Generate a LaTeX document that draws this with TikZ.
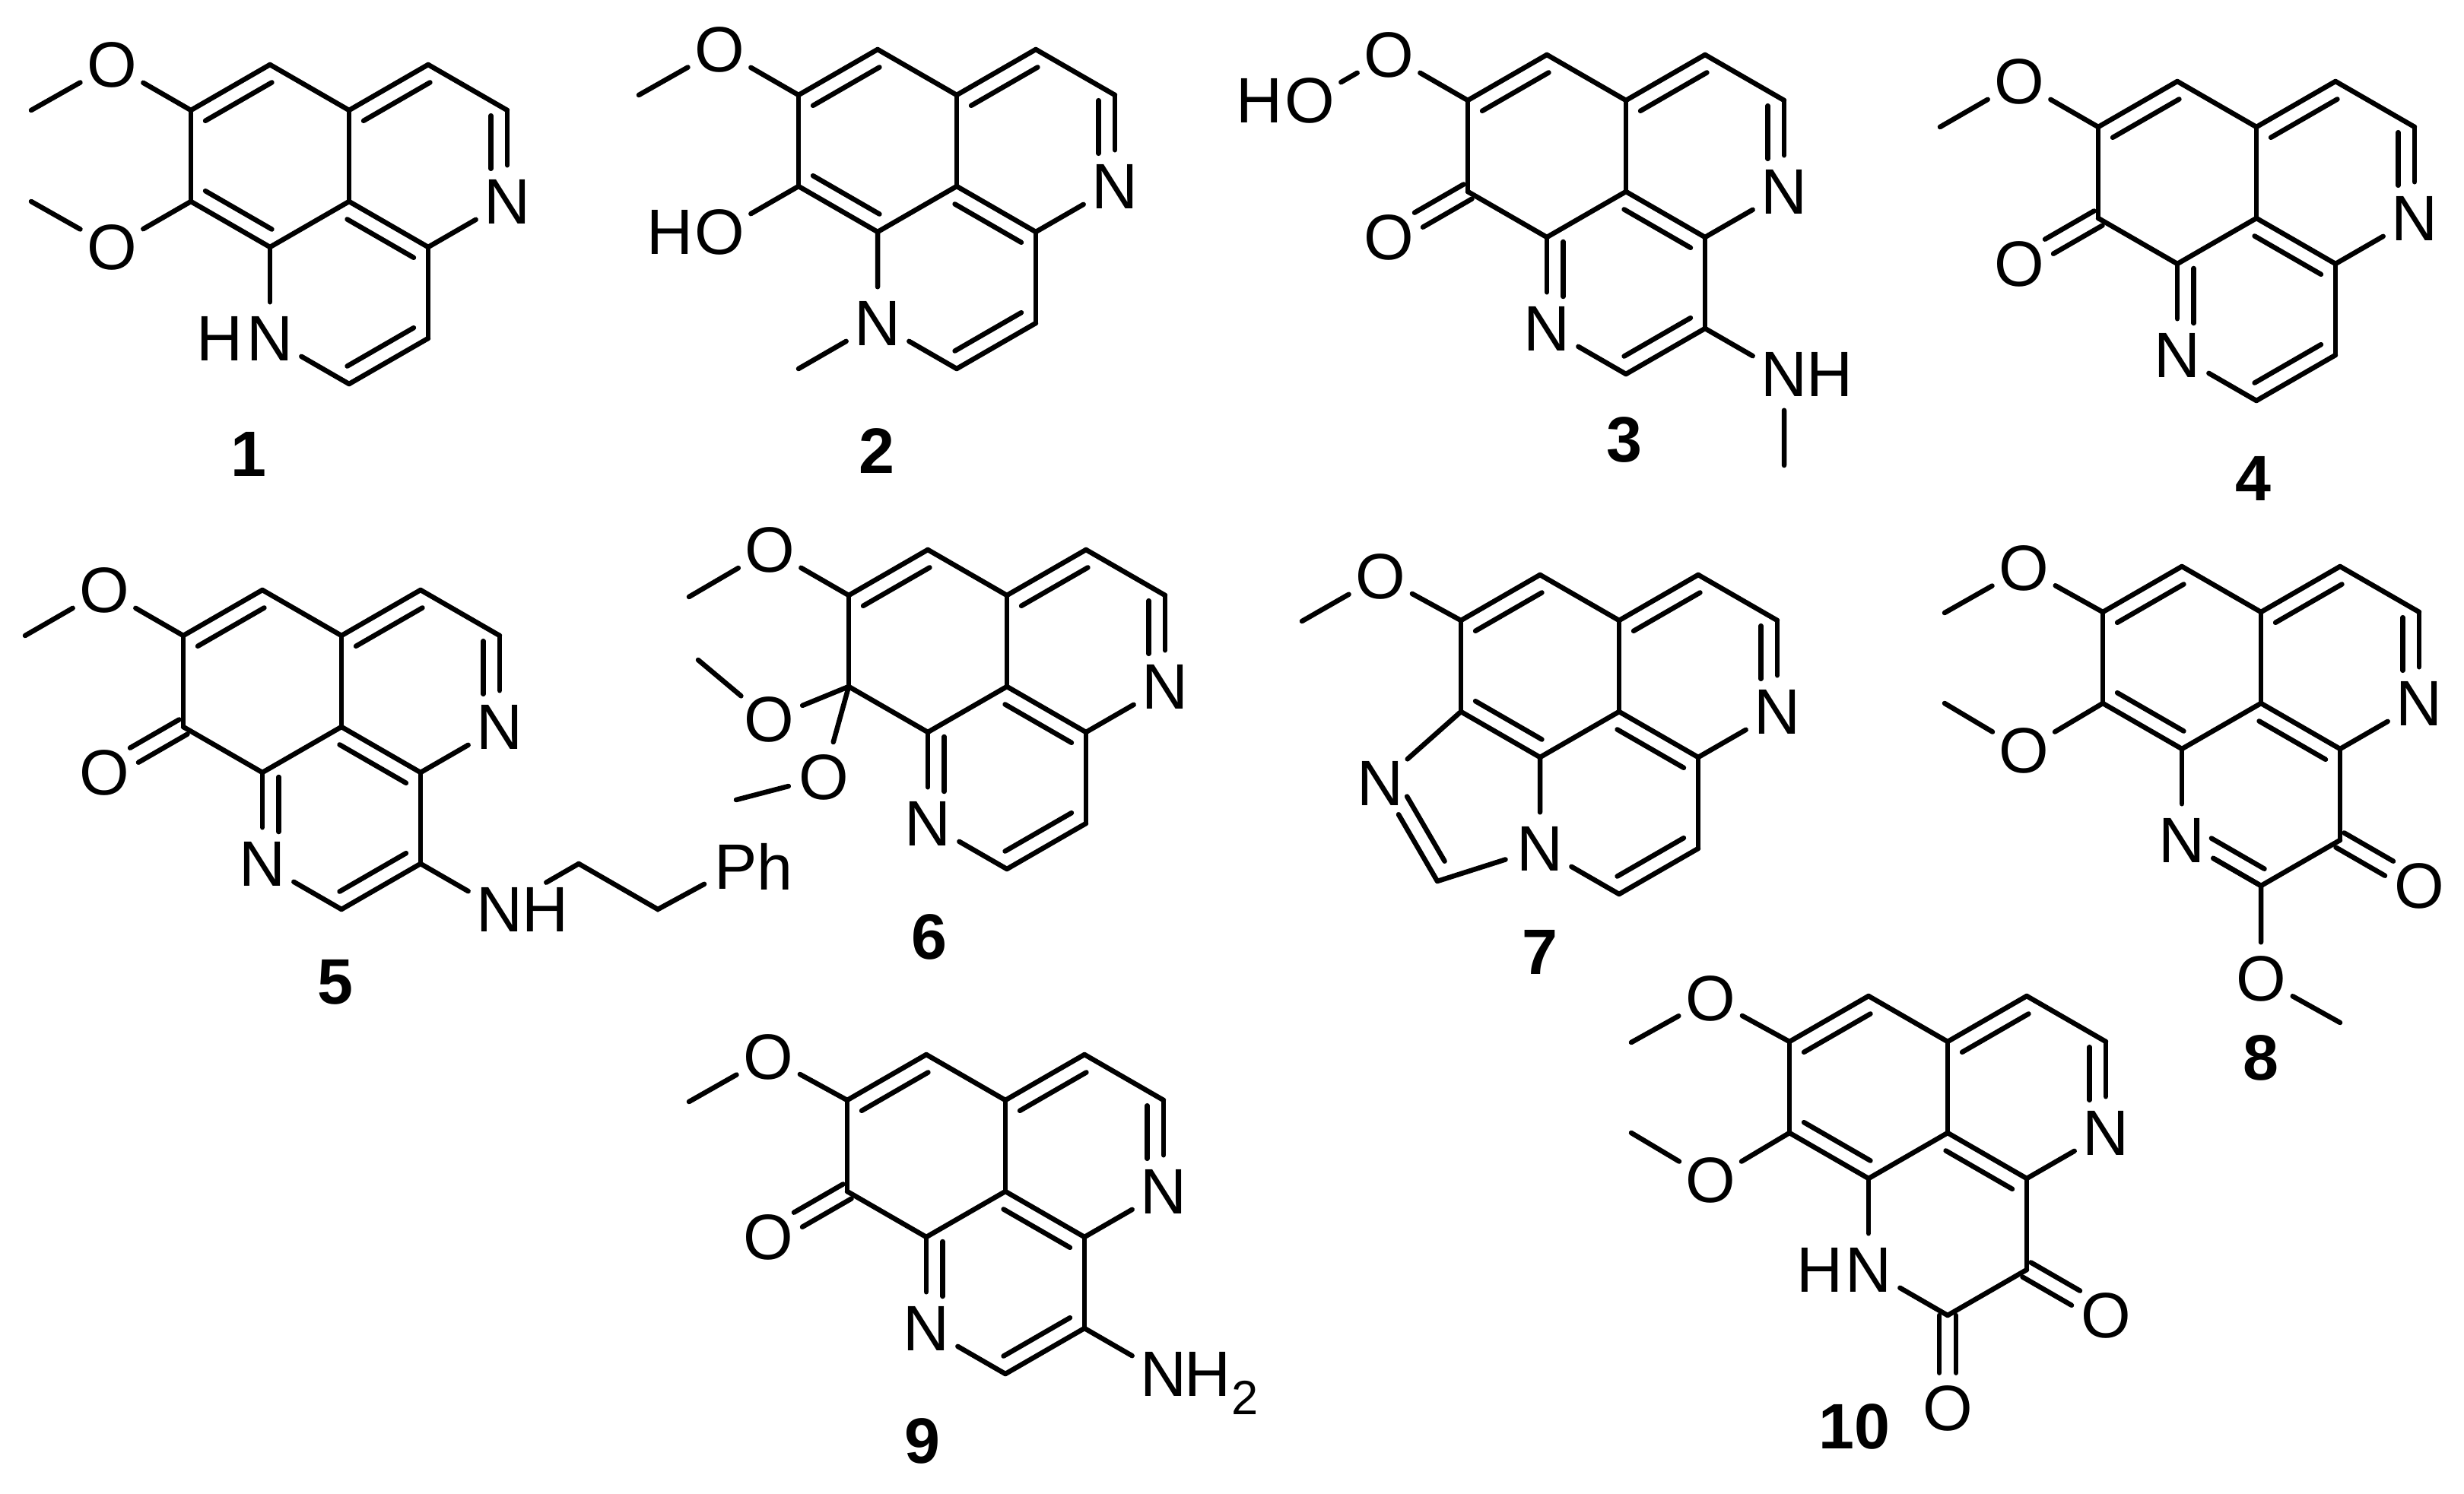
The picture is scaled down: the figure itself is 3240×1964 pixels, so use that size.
\documentclass[tikz,border=0pt]{standalone}
\usepackage{fontspec}
\setmainfont{Liberation Sans}
\usetikzlibrary{calc}

\newcommand{\dblbond}[5]{
\draw [bond] (#1) -- (#2);
\draw [bond] ($(#1)!#4!(#2)!0.215cm!#3:(#2)$) -- ($(#1)!#5!(#2)!0.215cm!#3:(#2)$);
}
\newcommand{\cobond}[2]{
\draw [bond] ($(#1)!0!(#2)!0.11cm!90:(#2)$) -- ($(#1)!.62!(#2)!0.11cm!90:(#2)$);
\draw [bond] ($(#1)!0!(#2)!0.11cm!-90:(#2)$) -- ($(#1)!.62!(#2)!0.11cm!-90:(#2)$);
}
% the skeleton that all ten share
\newcommand{\ringcore}{
\coordinate (a) at (-208,-120);
\coordinate (b) at (-104,-180);
\coordinate (c) at (0,-120);
\coordinate (d) at (104,-180);
\coordinate (e) at (208,-120);
\coordinate (f) at (104,60);
\coordinate (g) at (0,0);
\coordinate (h) at (-104,60);
\coordinate (i) at (-208,0);
\coordinate (j) at (104,180);
\coordinate (k) at (0,240);
\node [atom] (n) at (208,0) {N};
\node [atom] (l) at (-104,180) {N};
\foreach \p/\q in {b/c,d/e,n/f,c/g,a/i,h/g,j/f,l/k}
    \draw [bond] (\p) -- (\q);
\dblbond{a}{b}{-90}{.08}{.92}
\dblbond{c}{d}{-90}{.08}{.92}
\dblbond{g}{f}{-90}{.08}{.92}
\dblbond{e}{n}{-90}{.06}{.64}
}

\begin{document}
\begin{tikzpicture}[x=0.01cm,y=-0.01cm,
    bond/.style={line width=1.85pt,line cap=round},
    atom/.style={circle,inner sep=0pt,minimum size=0.94cm,font=\fontsize{24}{24}\selectfont},
    letter/.style={inner sep=0pt,font=\fontsize{24}{24}\selectfont},
    index/.style={inner sep=0pt,font=\fontsize{18}{18}\selectfont},
    tag/.style={inner sep=0pt,font=\fontsize{24}{24}\selectfont\bfseries}]
\useasboundingbox (0,0) rectangle (3240,1964);

% 1
\begin{scope}[shift={(459,265)},name prefix=m1-]
\ringcore
\node [atom] (o1) at (-312,-180) {O};
\node [atom] (o2) at (-312,60) {O};
\node [letter] (nh) at (-170,180) {H};
\coordinate (me1) at (-418,-120);
\coordinate (me2) at (-418,0);
\draw [bond] (a) -- (o1) -- (me1);
\draw [bond] (i) -- (o2) -- (me2);
\draw [bond] (h) -- (l);
\dblbond{i}{h}{90}{.08}{.92}
\dblbond{k}{j}{90}{.08}{.92}
\node [tag] (num) at (-132,332) {1};
\end{scope}

% 2
\begin{scope}[shift={(1258,245)},name prefix=m2-]
\ringcore
\node [atom] (o1) at (-312,-180) {O};
\node [atom] (o2) at (-312,60) {O};
\node [letter] (oh) at (-377,60) {H};
\coordinate (me1) at (-418,-120);
\coordinate (me2) at (-208,240);
\draw [bond] (a) -- (o1) -- (me1);
\draw [bond] (i) -- (o2);
\draw [bond] (h) -- (l) -- (me2);
\dblbond{i}{h}{90}{.08}{.92}
\dblbond{k}{j}{90}{.08}{.92}
\node [tag] (num) at (-105,348) {2};
\end{scope}

% 3
\begin{scope}[shift={(2138,252)},name prefix=m3-]
\ringcore
\node [atom] (o1) at (-312,-180) {O};
\node [atom] (o2) at (-416,-120) {O};
\node [letter] (oh) at (-482,-120) {H};
\node [atom] (o3) at (-312,60) {O};
\node [atom] (n2) at (208,240) {N};
\node [letter] (nh) at (268,240) {H};
\coordinate (me1) at (208,360);
\draw [bond] (a) -- (o1) -- (o2);
\draw [bond] (i) -- (h);
\draw [bond] (j) -- (n2) -- (me1);
\cobond{i}{o3}
\dblbond{h}{l}{90}{.05}{.65}
\dblbond{k}{j}{90}{.08}{.92}
\node [tag] (num) at (-2,327) {3};
\end{scope}

% 4
\begin{scope}[shift={(2967,287)},name prefix=m4-]
\ringcore
\node [atom] (o1) at (-312,-180) {O};
\node [atom] (o3) at (-312,60) {O};
\coordinate (me1) at (-416,-120);
\draw [bond] (a) -- (o1) -- (me1);
\draw [bond] (i) -- (h);
\cobond{i}{o3}
\dblbond{h}{l}{90}{.05}{.65}
\dblbond{k}{j}{90}{.08}{.92}
\node [tag] (num) at (-4,342) {4};
\end{scope}

% 5
\begin{scope}[shift={(449,956)},name prefix=m5-]
\ringcore
\node [atom] (o1) at (-312,-180) {O};
\node [atom] (o3) at (-312,60) {O};
\node [atom] (n2) at (208,240) {N};
\node [letter] (nh) at (268,240) {H};
\node [atom] (ph) at (519,184) {P};
\node [letter] (phh) at (570,184) {h};
\coordinate (me1) at (-416,-120);
\coordinate (ch1) at (312,180);
\coordinate (ch2) at (416,240);
\draw [bond] (a) -- (o1) -- (me1);
\draw [bond] (i) -- (h);
\draw [bond] (j) -- (n2);
\draw [bond,shorten <=0.23cm] (n2) -- (ch1);
\draw [bond] (ch1) -- (ch2) -- (ph);
\cobond{i}{o3}
\dblbond{h}{l}{90}{.05}{.65}
\dblbond{k}{j}{90}{.08}{.92}
\node [tag] (num) at (-8,336) {5};
\end{scope}

% 6
\begin{scope}[shift={(1324,903)},name prefix=m6-]
\ringcore
\node [atom] (o1) at (-312,-180) {O};
\node [atom] (o2) at (-313,43) {O};
\node [atom] (o3) at (-241,119) {O};
\coordinate (me1) at (-418,-118);
\coordinate (me2) at (-406,-35);
\coordinate (me3) at (-356,149);
\draw [bond] (a) -- (o1) -- (me1);
\draw [bond] (i) -- (o2) -- (me2);
\draw [bond] (i) -- (o3) -- (me3);
\draw [bond] (i) -- (h);
\dblbond{h}{l}{90}{.05}{.65}
\dblbond{k}{j}{90}{.08}{.92}
\node [tag] (num) at (-102,329) {6};
\end{scope}

% 7
\begin{scope}[shift={(2129,936)},name prefix=m7-]
\ringcore
\node [atom] (o1) at (-314,-178) {O};
\node [atom] (n2) at (-314,94) {N};
\coordinate (me1) at (-417,-119);
\coordinate (ch) at (-239,223);
\draw [bond] (a) -- (o1) -- (me1);
\draw [bond] (i) -- (n2);
\draw [bond] (h) -- (l) -- (ch);
\dblbond{i}{h}{90}{.08}{.92}
\dblbond{k}{j}{90}{.08}{.92}
\dblbond{n2}{ch}{90}{.22}{.88}
\node [tag] (num) at (-104,316) {7};
\end{scope}

% 8
\begin{scope}[shift={(2973,925)},name prefix=m8-]
\ringcore
\node [atom] (o1) at (-312,-178) {O};
\node [atom] (o2) at (-312,62) {O};
\node [atom] (o3) at (208,240) {O};
\node [atom] (o4) at (0,362) {O};
\coordinate (me1) at (-416,-119);
\coordinate (me2) at (-416,0);
\coordinate (me3) at (104,420);
\draw [bond] (a) -- (o1) -- (me1);
\draw [bond] (i) -- (o2) -- (me2);
\draw [bond] (k) -- (o4) -- (me3);
\draw [bond] (h) -- (l);
\draw [bond] (k) -- (j);
\dblbond{i}{h}{90}{.08}{.92}
\dblbond{l}{k}{90}{.27}{.94}
\cobond{j}{o3}
\node [tag] (num) at (0,466) {8};
\end{scope}

% 9
\begin{scope}[shift={(1322,1567)},name prefix=m9-]
\ringcore
\node [atom] (o1) at (-312,-177) {O};
\node [atom] (o3) at (-312,60) {O};
\node [atom] (n2) at (208,240) {N};
\node [letter] (nh) at (266,240) {H};
\node [index] (sub) at (315,271) {2};
\coordinate (me1) at (-416,-118);
\draw [bond] (a) -- (o1) -- (me1);
\draw [bond] (i) -- (h);
\draw [bond] (j) -- (n2);
\cobond{i}{o3}
\dblbond{h}{l}{90}{.05}{.65}
\dblbond{k}{j}{90}{.08}{.92}
\node [tag] (num) at (-109,328) {9};
\end{scope}

% 10
\begin{scope}[shift={(2561,1490)},name prefix=m10-]
\ringcore
\node [atom] (o1) at (-312,-177) {O};
\node [atom] (o2) at (-312,62) {O};
\node [atom] (o3) at (208,240) {O};
\node [atom] (o4) at (0,362) {O};
\node [letter] (nh) at (-168,180) {H};
\coordinate (me1) at (-416,-119);
\coordinate (me2) at (-416,0);
\draw [bond] (a) -- (o1) -- (me1);
\draw [bond] (i) -- (o2) -- (me2);
\draw [bond] (h) -- (l);
\draw [bond] (k) -- (j);
\dblbond{i}{h}{90}{.08}{.92}
\cobond{j}{o3}
\cobond{k}{o4}
\node [tag] (num) at (-123,386) {10};
\end{scope}
\end{tikzpicture}
\end{document}
